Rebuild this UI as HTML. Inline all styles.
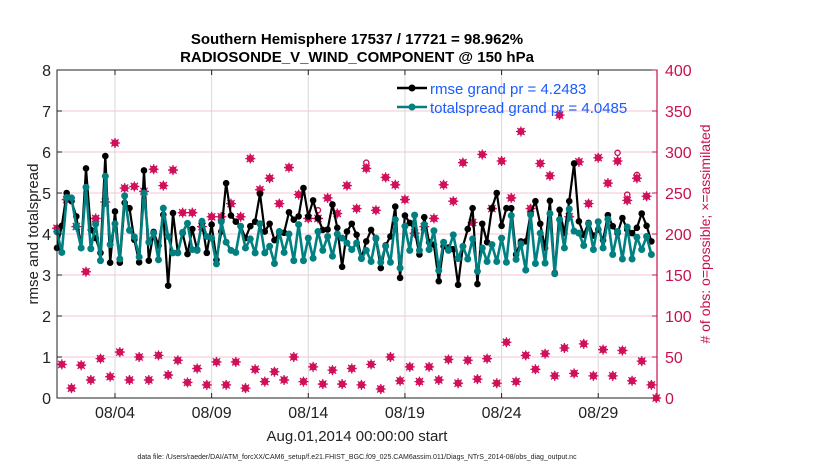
<!DOCTYPE html>
<html><head><meta charset="utf-8"><style>
body{margin:0;background:#fff;}
svg{display:block;font-family:"Liberation Sans",sans-serif;}
</style></head><body>
<svg id="chart" width="830" height="470" viewBox="0 0 830 470">
<text x="357" y="44" text-anchor="middle" font-size="15" font-weight="bold">Southern Hemisphere 17537 / 17721 = 98.962%</text>
<text x="357" y="62" text-anchor="middle" font-size="15" font-weight="bold">RADIOSONDE_V_WIND_COMPONENT @ 150 hPa</text>
<g id="grid"></g>
<g id="obs"></g>
<g id="series"></g>
<rect x="57" y="70" width="600" height="328" fill="none" stroke="#222" stroke-width="1"/>
<line x1="657" y1="70" x2="657" y2="398" stroke="#c8104f" stroke-width="1.2"/>
<g id="axes"></g>
<text transform="translate(38,234) rotate(-90)" text-anchor="middle" font-size="15" fill="#222">rmse and totalspread</text>
<text transform="translate(710,234) rotate(-90)" text-anchor="middle" font-size="14" fill="#c8104f"># of obs: o=possible; ×=assimilated</text>
<text x="357" y="441" text-anchor="middle" font-size="15" fill="#222">Aug.01,2014 00:00:00 start</text>
<text x="357" y="459" text-anchor="middle" font-size="7" fill="#222">data file: /Users/raeder/DAI/ATM_forcXX/CAM6_setup/f.e21.FHIST_BGC.f09_025.CAM6assim.011/Diags_NTrS_2014-08/obs_diag_output.nc</text>
<g>
<line x1="397" y1="88" x2="427" y2="88" stroke="#000" stroke-width="2.5"/>
<circle cx="412" cy="88" r="3.5" fill="#000"/>
<text x="430" y="94" font-size="15" fill="#1a5cff">rmse grand pr = 4.2483</text>
<line x1="397" y1="107" x2="427" y2="107" stroke="#008080" stroke-width="2.5"/>
<circle cx="412" cy="107" r="3.5" fill="#008080"/>
<text x="430" y="113" font-size="15" fill="#1a5cff">totalspread grand pr = 4.0485</text>
</g>
</svg>
<script>
const rmse=[3.66,4.2,5.0,4.8,4.43,3.66,5.6,4.1,3.9,3.54,5.9,3.3,4.55,
3.3,4.76,4.63,3.86,3.31,5.55,3.35,4.05,3.72,4.47,2.74,4.51,3.55,4.02,3.51,4.12,3.62,4.27,3.54,
4.23,3.37,4.06,5.24,4.45,4.3,4.19,3.9,4.19,4.3,4.98,4.06,4.25,3.85,4.03,4.03,4.53,4.35,4.43,5.12,4.43,4.82,4.39,4.1,4.11,4.72,4.15,3.2,4.06,4.25,3.98,
3.41,3.82,4.1,3.88,3.17,3.72,3.94,4.67,2.93,4.45,4.27,4.1,3.5,4.41,3.8,3.74,2.85,3.7,3.67,3.63,2.76,3.7,4.12,4.63,2.78,4.25,3.8,4.63,5.0,4.2,4.63,
4.63,3.5,3.82,3.82,4.5,4.8,4.25,3.66,4.81,3.05,4.59,4.02,4.8,5.72,4.31,3.98,4.27,3.96,4.11,3.85,4.46,4.19,4.02,4.39,4.11,4.02,4.15,4.5,4.2,3.82];
const spread=[4.05,
3.55,4.89,4.88,4.19,3.66,5.14,3.64,4.24,3.35,5.41,3.74,4.25,3.39,4.93,4.09,3.93,3.44,5.0,3.8,4.02,3.37,4.63,3.94,3.54,3.54,4.04,4.26,3.62,3.6,4.31,3.94,
3.9,3.27,4.3,3.8,3.6,3.55,4.19,3.66,3.88,3.54,4.25,3.54,3.7,3.28,4.06,3.55,4.0,3.35,4.23,3.35,3.9,3.41,4.06,3.6,3.94,3.46,4.0,3.9,3.78,3.62,3.78,
3.4,3.6,3.33,3.9,3.31,3.7,3.31,4.35,3.17,4.19,3.6,4.46,3.6,4.23,3.62,4.08,3.11,3.8,3.6,3.98,3.4,3.7,3.39,3.88,3.09,3.66,3.33,3.74,3.33,3.9,3.31,
4.45,3.38,3.76,3.12,4.47,3.28,4.02,3.29,4.5,3.03,4.35,3.66,4.61,4.07,4.02,3.72,4.25,3.62,4.3,3.66,4.36,3.5,4.06,3.39,4.17,3.39,3.92,3.62,3.94,3.5];
const obsAssim=[207,41,242,12,209,40,154,22,219,48,239,26,311,56,256,22,258,50,252,22,279,52,259,28,278,46,226,19,226,36,209,16,221,44,221,16,237,44,221,12,292,35,254,20,268,32,237,22,281,50,248,20,219,38,219,17,244,34,225,17,259,36,231,16,280,41,229,11,269,50,260,21,242,38,201,20,209,38,219,22,260,47,240,18,287,46,214,23,297,48,231,18,289,68,244,20,325,52,231,35,286,54,271,27,345,61,221,30,288,66,237,27,293,59,262,27,289,58,241,21,268,45,246,16,0];
const obsPossible=[207,41,242,12,209,40,154,22,219,48,239,26,311,56,256,22,258,50,252,22,279,52,259,28,278,46,226,19,226,36,209,16,221,44,221,16,237,44,221,12,292,35,254,20,268,32,237,22,281,50,248,20,219,38,229,17,244,34,225,17,259,36,231,16,287,41,229,11,269,50,260,21,242,38,205,20,209,38,219,22,260,47,240,18,287,46,214,23,297,48,231,18,289,68,244,20,325,52,231,35,286,54,271,27,345,61,221,30,288,66,237,27,293,59,262,27,299,58,248,21,272,45,246,16,0];
const leftTicks=[0,1,2,3,4,5,6,7,8];
const rightTicks=[0,50,100,150,200,250,300,350,400];
const dateTickDays=[3,8,13,18,23,28];
const dateTickLabels=["08/04","08/09","08/14","08/19","08/24","08/29"];
const stepDays=0.25;

const NS="http://www.w3.org/2000/svg";
const X0=57,X1=657,Y0=398,Y1=70,DMAX=31.04;
const xs=d=>X0+d/DMAX*(X1-X0);
const yl=v=>Y0-v/8*(Y0-Y1);
const yr=v=>Y0-v/400*(Y0-Y1);
function mk(tag,attrs,parent){const e=document.createElementNS(NS,tag);for(const k in attrs)e.setAttribute(k,attrs[k]);parent.appendChild(e);return e;}
const grid=document.getElementById('grid'),axes=document.getElementById('axes'),obs=document.getElementById('obs'),ser=document.getElementById('series');

rightTicks.forEach(v=>{
  if(v>0&&v<400){const l=mk('line',{x1:X0,x2:X1,y1:yr(v),y2:yr(v),stroke:'#f3c6d6','stroke-width':1},grid);
  
  }
  const t=mk('text',{x:665,y:yr(v)+6,'font-size':16,fill:'#c8104f'},axes);t.textContent=v;
  
  
  const tk=mk('line',{x1:X1-5,x2:X1,y1:yr(v),y2:yr(v),stroke:'#c8104f'},axes);
  
  
});
leftTicks.forEach(v=>{
  const t=mk('text',{x:51,y:yl(v)+6,'font-size':16,fill:'#222','text-anchor':'end'},axes);t.textContent=v;
  
  
  const tk=mk('line',{x1:X0,x2:X0+5,y1:yl(v),y2:yl(v),stroke:'#222'},axes);
  
  
});
dateTickDays.forEach((d,i)=>{
  const g=mk('line',{x1:xs(d),x2:xs(d),y1:Y1,y2:Y0,stroke:'#d8d8d8','stroke-width':1},grid);
  
  
  const tk=mk('line',{x1:xs(d),x2:xs(d),y1:Y0-5,y2:Y0,stroke:'#222'},axes);
  
  
  const tk2=mk('line',{x1:xs(d),x2:xs(d),y1:Y1,y2:Y1+5,stroke:'#222'},axes);
  
  
  const t=mk('text',{x:xs(d),y:418,'font-size':16,fill:'#222','text-anchor':'middle'},axes);t.textContent=dateTickLabels[i];
  
  
});

const C='#d0105a';
obsPossible.forEach((v,i)=>{
  if(v!==obsAssim[i]){const c=mk('circle',{cx:xs(i*stepDays),cy:yr(v),r:2.6,fill:'none',stroke:C,'stroke-width':1.4},obs);
  
  }
});
obsAssim.forEach((v,i)=>{
  const x=xs(i*stepDays),y=yr(v);
  const g=mk('g',{},obs);
  
  
  mk('circle',{cx:x,cy:y,r:3.6,fill:C},g);
  mk('path',{d:`M${x-5},${y}H${x+5}M${x},${y-5}V${y+5}M${x-3.6},${y-3.6}L${x+3.6},${y+3.6}M${x-3.6},${y+3.6}L${x+3.6},${y-3.6}`,stroke:C,'stroke-width':1.3},g);
});

function drawSeries(arr,color,w,r,name){
  const pts=arr.map((v,i)=>xs(i*stepDays).toFixed(1)+','+yl(v).toFixed(1)).join(' ');
  const pl=mk('polyline',{points:pts,fill:'none',stroke:color,'stroke-width':w,'stroke-linejoin':'round'},ser);
  
  
  arr.forEach((v,i)=>{const c=mk('circle',{cx:xs(i*stepDays),cy:yl(v),r:r,fill:color},ser);
    
    });
}
drawSeries(rmse,'#000',2.2,3.3,'rmse');
drawSeries(spread,'#008080',2.6,3.5,'totalspread');
</script>
</body></html>
